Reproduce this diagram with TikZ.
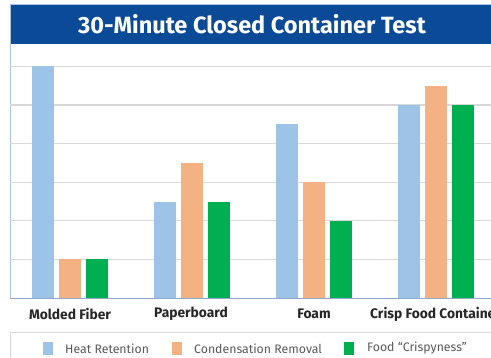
\documentclass[tikz,border=0pt]{standalone}
\usepackage{fontspec}
\setmainfont{Fira Sans}
\definecolor{titleblue}{HTML}{0B4A96}
\definecolor{framelight}{HTML}{A9C4E4}
\definecolor{axisblue}{HTML}{8FAACC}
\definecolor{gridgray}{HTML}{D9D9D9}
\definecolor{heat}{HTML}{9DC3E6}
\definecolor{cond}{HTML}{F4B183}
\definecolor{crisp}{HTML}{00B050}
\definecolor{legendgray}{HTML}{595959}
\tikzset{
  gridline/.style={draw=gridgray, line width=1.2pt},
  catlabel/.style={font=\fontsize{13.8}{16}\selectfont\bfseries, text=black!85, inner sep=0pt},
  legendtext/.style={font=\fontsize{12.3}{14}\selectfont, text=legendgray, anchor=west, inner sep=0pt},
}
\begin{document}
\begin{tikzpicture}[x=1pt,y=-1pt]
\useasboundingbox (0,0) rectangle (491,357);
\clip (0,0) rectangle (491,357);
\fill[white] (0,0) rectangle (491,357);
% title bar
\fill[titleblue] (10,4) rectangle (495,44);
\draw[framelight, line width=0.8pt] (10,298) -- (10,4) -- (495,4);
\node[text=white, font=\fontsize{23.5}{26}\selectfont\bfseries] (title) at (252,24) {30-Minute Closed Container Test};
% grid
\foreach \k in {1,...,6} {
  \draw[gridline] (10,298-38.6*\k) -- (495,298-38.6*\k);
}
% bars: heat retention, condensation removal, crispyness
\foreach \g/\a/\b/\c in {0/6/1/1,1/2.5/3.5/2.5,2/4.5/3/2,3/5/5.5/5} {
  \pgfmathsetmacro\xo{32+122*\g}
  \fill[heat]  (\xo,298) rectangle ++(22,-\a*38.6);
  \fill[cond]  (\xo+26.5,298) rectangle ++(22,-\b*38.6);
  \fill[crisp] (\xo+53.5,298) rectangle ++(22,-\c*38.6);
}
% axis
\draw[axisblue, line width=1pt] (10,298) -- (495,298);
% category labels
\node[catlabel] (mf) at (70,314) {Molded Fiber};
\node[catlabel] (pb) at (191,314) {Paperboard};
\node[catlabel] (fo) at (314,314) {Foam};
\node[catlabel, anchor=west] (cf) at (370,314) {Crisp Food Containers};
% legend
\draw[gridgray, line width=0.8pt] (10,360) -- (10,332) -- (495,332);
\fill[heat]  (43,342) rectangle (53,355);
\fill[cond]  (172,342) rectangle (182,355);
\fill[crisp] (344,342) rectangle (354,355);
\node[legendtext] (lh) at (65,348.5) {Heat Retention};
\node[legendtext] (lc) at (194,348.5) {Condensation Removal};
\node[legendtext] (lf) at (367,348.5) {Food “Crispyness”};
\end{tikzpicture}
\end{document}
